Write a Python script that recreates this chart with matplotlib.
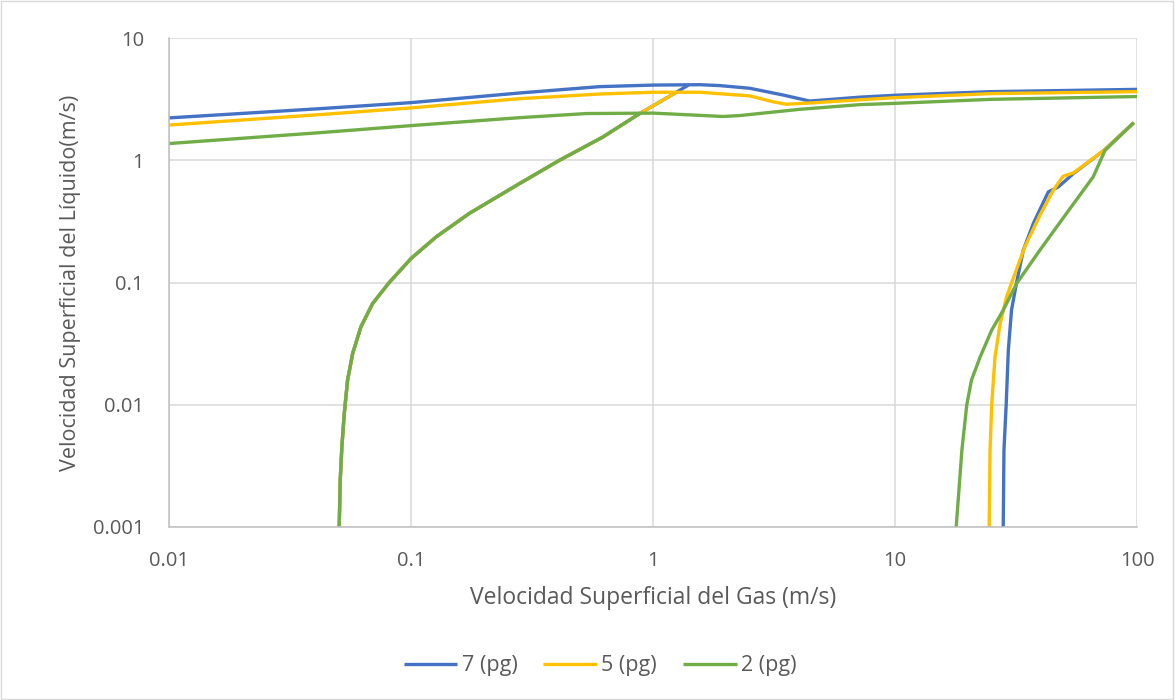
import matplotlib
matplotlib.use("Agg")
import matplotlib.pyplot as plt
from matplotlib.patches import Rectangle

# --- datos (Vsg, Vsl) ---
# curva superior
top7_x = [0.01, 0.0418, 0.1, 0.281, 0.6, 1.0, 1.56, 1.89, 2.51, 3.44, 4.44, 7.14, 10, 25, 100]
top7_y = [2.22, 2.64, 2.96, 3.55, 4.0, 4.12, 4.15, 4.08, 3.88, 3.42, 3.05, 3.28, 3.40, 3.64, 3.80]
top5_x = [0.01, 0.0418, 0.1, 0.281, 0.6, 1.0, 1.56, 2.51, 3.13, 3.56, 4.58, 7.14, 10, 25, 100]
top5_y = [1.94, 2.36, 2.68, 3.19, 3.48, 3.60, 3.60, 3.36, 3.01, 2.87, 2.95, 3.12, 3.25, 3.51, 3.64]
top2_x = [0.01, 0.0418, 0.1, 0.281, 0.53, 1.0, 1.95, 2.28, 4.04, 7.14, 10, 25, 100]
top2_y = [1.37, 1.68, 1.92, 2.23, 2.41, 2.43, 2.28, 2.32, 2.61, 2.85, 2.92, 3.15, 3.32]

# curva izquierda (comun, cada serie termina en su curva superior)
left_x = [0.0505, 0.0510, 0.0518, 0.0530, 0.0547, 0.0574, 0.0621, 0.0694, 0.0813,
          0.1, 0.127, 0.174, 0.281, 0.411, 0.621, 0.881, 1.25, 1.40]
left_y = [0.001, 0.00242, 0.00454, 0.0085, 0.0159, 0.0263, 0.0434, 0.0673, 0.1,
          0.157, 0.236, 0.367, 0.645, 1.0, 1.55, 2.41, 3.6, 4.12]
left_end = {"7": 18, "5": 17, "2": 16}

# curva derecha
right7_x = [28.0, 28.2, 28.8, 29.4, 30.3, 31.8, 33.9, 37.3, 43.0, 47.3, 54.6, 73.1, 97]
right7_y = [0.001, 0.00426, 0.01, 0.028, 0.0594, 0.1, 0.184, 0.304, 0.551, 0.605, 0.778, 1.207, 2.03]
right5_x = [24.5, 24.7, 25.1, 25.9, 27.2, 28.9, 31.3, 34.4, 39.7, 45.1, 49.5, 54.6, 73.1, 97]
right5_y = [0.001, 0.00426, 0.01, 0.0247, 0.0462, 0.0763, 0.118, 0.196, 0.355, 0.569, 0.74, 0.788, 1.207, 2.03]
right2_x = [17.9, 18.9, 19.8, 20.7, 22.5, 25.1, 28.0, 31.8, 39.7, 51.1, 65.9, 73.8, 97]
right2_y = [0.001, 0.00426, 0.01, 0.0159, 0.0247, 0.0408, 0.0594, 0.098, 0.184, 0.367, 0.731, 1.207, 2.03]

series = [
    ("7 (pg)", "#4472C4", top7_x, top7_y, left_end["7"], right7_x, right7_y),
    ("5 (pg)", "#FFC000", top5_x, top5_y, left_end["5"], right5_x, right5_y),
    ("2 (pg)", "#70AD47", top2_x, top2_y, left_end["2"], right2_x, right2_y),
]

plt.rcParams['font.family'] = ['Open Sans', 'DejaVu Sans']

fig = plt.figure(figsize=(11.75, 7), dpi=100)
ax = fig.add_axes([169/1175, 1-527/700, (1137-169)/1175, (527-38)/700])

lw = 2.4
for name, col, tx, ty, n, rx, ry in series:
    ax.plot(tx, ty, color=col, lw=lw, label=name, solid_capstyle='butt')
    ax.plot(left_x[:n], left_y[:n], color=col, lw=lw, solid_capstyle='butt')
    ax.plot(rx, ry, color=col, lw=lw, solid_capstyle='butt')

ax.set_xscale('log')
ax.set_yscale('log')
ax.set_xlim(0.01, 100)
ax.set_ylim(0.001, 10)
xt = [0.01, 0.1, 1, 10, 100]
yt = [0.001, 0.01, 0.1, 1, 10]
ax.set_xticks(xt)
ax.set_xticklabels(["0.01", "0.1", "1", "10", "100"])
ax.set_yticks(yt)
ax.set_yticklabels(["0.001", "0.01", "0.1", "1", "10"])
ax.minorticks_off()
ax.tick_params(length=0, labelsize=14.5, colors='#595959')
ax.tick_params(axis='x', pad=17)
ax.tick_params(axis='y', pad=18)
ax.grid(True, color='#D9D9D9', lw=1.1)
ax.set_axisbelow(True)
for s in ['top', 'right']:
    ax.spines[s].set_visible(False)
for s in ['left', 'bottom']:
    ax.spines[s].set_color('#BFBFBF')
    ax.spines[s].set_linewidth(1.1)

ax.set_xlabel("Velocidad Superficial del Gas (m/s)", fontsize=16.5, color='#595959', labelpad=11)
ax.set_ylabel("Velocidad Superficial del Líquido(m/s)", fontsize=15.5, color='#595959', labelpad=8)

ax.legend(loc='center', bbox_to_anchor=(600/1175, 1-666/700), bbox_transform=fig.transFigure,
          ncol=3, frameon=False, fontsize=15.5, labelcolor='#595959',
          handlelength=2.5, columnspacing=1.2, handletextpad=0.2)

fig.patches.append(Rectangle((0.001, 0.002), 0.997, 0.996, transform=fig.transFigure,
                             fill=False, edgecolor='#D9D9D9', lw=1))

fig.savefig("out.png", dpi=100)
